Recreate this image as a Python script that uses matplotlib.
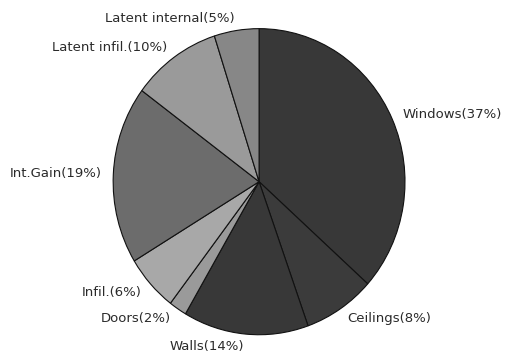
import matplotlib
matplotlib.use("Agg")
import matplotlib.pyplot as plt

labels = ["Windows(37%)", "Ceilings(8%)", "Walls(14%)", "Doors(2%)",
          "Infil.(6%)", "Int.Gain(19%)", "Latent infil.(10%)", "Latent internal(5%)"]
values = [37, 8, 14, 2, 6, 19, 10, 5]
colors = ["#383838", "#3b3b3b", "#383838", "#9a9a9a",
          "#a8a8a8", "#6c6c6c", "#9a9a9a", "#878787"]

fig = plt.figure(figsize=(5.12, 3.58), dpi=100)
ax = fig.add_axes([0.221, 0.065, 0.570, 0.855])
wedges, texts = ax.pie(values, labels=labels, colors=colors, startangle=90,
                       counterclock=False, labeldistance=1.08,
                       wedgeprops=dict(edgecolor="#111111", linewidth=0.8),
                       textprops=dict(fontsize=9.5, family="DejaVu Sans",
                                      color="#2a2a2a"))
for t in texts:
    t.set_clip_on(False)
ax.set_aspect("auto")
ax.set_xlim(-1, 1)
ax.set_ylim(-1, 1)
fig.savefig("out.png", dpi=100)
